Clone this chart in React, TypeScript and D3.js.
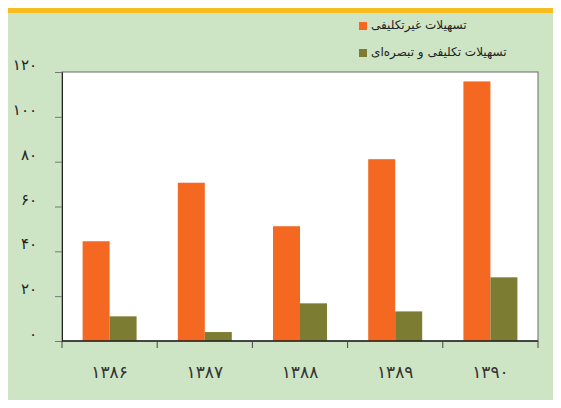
import { useEffect, useRef } from "react";
import * as d3 from "d3";

const years = ["۱۳۸۶", "۱۳۸۷", "۱۳۸۸", "۱۳۸۹", "۱۳۹۰"];
const nonMandatory = [44.5, 70.6, 51.2, 81.1, 115.8];
const mandatory = [11.0, 4.0, 16.8, 13.2, 28.4];
const seriesNames = ["تسهیلات غیرتکلیفی", "تسهیلات تکلیفی و تبصره‌ای"];
const seriesColors = ["#F46822", "#7C7C32"];
const yTicks = [0, 20, 40, 60, 80, 100, 120];

const toFa = (n: number) => String(n).replace(/\d/g, (c) => "۰۱۲۳۴۵۶۷۸۹"[+c]);

export default function App() {
  const ref = useRef<SVGSVGElement | null>(null);

  useEffect(() => {
    const width = 561;
    const height = 408;
    const margin = { top: 72, right: 23, bottom: 67, left: 62 };
    const font = "DejaVu Sans, sans-serif";

    const svg = d3.select(ref.current).attr("width", width).attr("height", height);
    svg.selectAll("*").remove();

    // page background
    svg.append("rect").attr("width", width).attr("height", height).attr("fill", "#fff");
    svg.append("rect").attr("x", 6).attr("y", 0).attr("width", width - 6).attr("height", height - 1).attr("fill", "#CDE5C5");
    svg.append("rect").attr("x", 6).attr("y", 0).attr("width", width - 6).attr("height", 13).attr("fill", "#F7BC1E");

    const x = d3
      .scaleBand()
      .domain(years)
      .range([margin.left, width - margin.right])
      .paddingInner(0.433)
      .paddingOuter(0.2165);

    const inner = d3.scaleBand().domain(["0", "1"]).range([0, x.bandwidth()]);

    const y = d3.scaleLinear().domain([0, 120]).range([height - margin.bottom, margin.top]);

    // plot area
    svg
      .append("rect")
      .attr("x", margin.left)
      .attr("y", margin.top)
      .attr("width", width - margin.right - margin.left)
      .attr("height", height - margin.bottom - margin.top)
      .attr("fill", "#fff")
      .attr("stroke", "#6b6b6b")
      .attr("stroke-width", 1);

    const series = [nonMandatory, mandatory];
    series.forEach((vals, si) => {
      svg
        .append("g")
        .selectAll("rect")
        .data(vals)
        .enter()
        .append("rect")
        .attr("x", (_d, i) => x(years[i])! + inner(String(si))!)
        .attr("y", (d) => y(d))
        .attr("width", inner.bandwidth())
        .attr("height", (d) => y(0) - y(d))
        .attr("fill", seriesColors[si]);
    });

    // y axis
    const yAxis = svg
      .append("g")
      .attr("transform", `translate(${margin.left}, 0)`)
      .call(d3.axisLeft(y).tickValues(yTicks).tickSize(7).tickFormat(() => ""));
    yAxis.select(".domain").attr("stroke", "#222");
    yAxis.selectAll(".tick line").attr("stroke", "#777");

    svg
      .append("g")
      .selectAll("text")
      .data(yTicks)
      .enter()
      .append("text")
      .attr("x", 37)
      .attr("y", (d) => y(d) - 2)
      .attr("text-anchor", "end")
      .attr("font-family", font)
      .attr("font-size", 15)
      .attr("letter-spacing", 2)
      .attr("fill", "#222")
      .text((d) => toFa(d));

    // x axis
    const bounds = d3.range(years.length + 1).map((i) => margin.left + i * x.step());
    svg
      .append("line")
      .attr("x1", margin.left)
      .attr("x2", width - margin.right)
      .attr("y1", y(0))
      .attr("y2", y(0))
      .attr("stroke", "#222")
      .attr("stroke-width", 1.5);
    svg
      .append("g")
      .selectAll("line")
      .data(bounds)
      .enter()
      .append("line")
      .attr("x1", (d) => d)
      .attr("x2", (d) => d)
      .attr("y1", y(0))
      .attr("y2", y(0) + 7)
      .attr("stroke", "#444");

    svg
      .append("g")
      .selectAll("text")
      .data(years)
      .enter()
      .append("text")
      .attr("x", (d) => x(d)! + x.bandwidth() / 2)
      .attr("y", 378)
      .attr("text-anchor", "middle")
      .attr("font-family", font)
      .attr("font-size", 17)
      .attr("letter-spacing", 1)
      .attr("fill", "#333")
      .text((d) => d);

    // legend
    const legend = svg.append("g").attr("transform", "translate(359, 22)");
    seriesNames.forEach((name, i) => {
      const g = legend.append("g").attr("transform", `translate(0, ${i * 27})`);
      g.append("rect").attr("width", 8).attr("height", 8).attr("fill", seriesColors[i]);
      g.append("text")
        .attr("x", 12)
        .attr("y", 7)
        .attr("font-family", font)
        .attr("font-size", 12)
        .attr("fill", "#222")
        .attr("direction", "rtl")
        .attr("text-anchor", "end")
        .text(name);
    });
  }, []);

  return (
    <div style={{ margin: -8 }}>
      <svg ref={ref} style={{ display: "block" }} />
    </div>
  );
}
